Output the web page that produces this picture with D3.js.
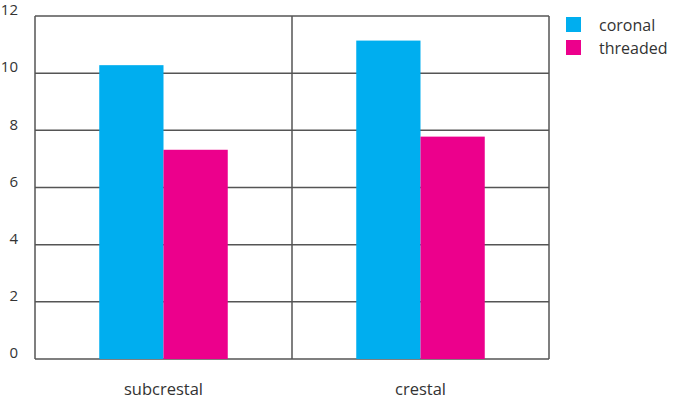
<!DOCTYPE html>
<html>
<head>
<meta charset="utf-8">
<script src="https://cdn.jsdelivr.net/npm/d3@7"></script>
<style>
body { margin: 0; background: #fff; }
text { font-family: "Open Sans", "DejaVu Sans", sans-serif; fill: #333; }
</style>
</head>
<body>
<script>
let width = 674
let height = 400

let categories = ["subcrestal", "crestal"]
let series = ["coronal", "threaded"]
let coronal = [10.28, 11.14]
let threaded = [7.32, 7.78]
let yTicks = [0, 2, 4, 6, 8, 10, 12]
let colors = ["#00aeef", "#ec008c"]

let plot = {left: 35, right: 549, top: 16, bottom: 359}

let data = categories.map((c, i) => ({cat: c, values: [coronal[i], threaded[i]]}))

let svg = d3.select("body")
.append("svg")
.attr("width", width)
.attr("height", height)

//scales
let x0 = d3.scaleBand()
.domain(categories)
.range([plot.left, plot.right])
.padding(0)

let x1 = d3.scaleBand()
.domain(series)
.range([0, x0.bandwidth()])
.paddingInner(0)
.paddingOuter(1)

let y = d3.scaleLinear()
.domain([0, 12])
.range([plot.bottom, plot.top])

let color = d3.scaleOrdinal()
.domain(series)
.range(colors)

// gridlines
svg.append("g")
	.selectAll("line")
	.data(yTicks)
	.enter()
	.append("line")
	.attr("x1", plot.left)
	.attr("x2", plot.right)
	.attr("y1", d => y(d))
	.attr("y2", d => y(d))
	.style("stroke", "#555")
	.style("stroke-width", 1.5)

// bars
let groups = svg.selectAll(".group")
	.data(data)
	.enter()
	.append("g")
	.attr("transform", d => "translate(" + x0(d.cat) + ",0)")

groups.selectAll("rect")
	.data(d => d.values.map((v, i) => ({s: series[i], v: v})))
	.enter()
	.append("rect")
	.attr("x", d => x1(d.s))
	.attr("width", x1.bandwidth())
	.attr("y", d => y(d.v))
	.attr("height", d => y(0) - y(d.v))
	.style("fill", d => color(d.s))

// vertical frame lines (left, dividers, right)
let vlines = categories.map(c => x0(c)).concat([plot.right])
svg.append("g")
	.selectAll("line")
	.data(vlines)
	.enter()
	.append("line")
	.attr("x1", d => d)
	.attr("x2", d => d)
	.attr("y1", plot.top)
	.attr("y2", plot.bottom)
	.style("stroke", "#555")
	.style("stroke-width", 1.5)

// y axis labels
svg.append("g")
	.selectAll("text")
	.data(yTicks)
	.enter()
	.append("text")
	.attr("x", 18)
	.attr("y", d => y(d) - 6)
	.attr("text-anchor", "end")
	.attr("dy", "0.35em")
	.style("font-size", "15px")
	.text(d => d)

// x labels
svg.append("g")
	.selectAll("text")
	.data(categories)
	.enter()
	.append("text")
	.attr("x", d => x0(d) + x0.bandwidth() / 2)
	.attr("y", 395)
	.attr("text-anchor", "middle")
	.style("font-size", "16.5px")
	.text(d => d)

// legend
let legend = svg.append("g")
	.selectAll("g")
	.data(series)
	.enter()
	.append("g")
	.attr("transform", (d, i) => "translate(566," + (17 + i * 23) + ")")

legend.append("rect")
	.attr("width", 15)
	.attr("height", 15)
	.style("fill", d => color(d))

legend.append("text")
	.attr("x", 33)
	.attr("y", 8)
	.attr("dy", "0.35em")
	.style("font-size", "16px")
	.text(d => d)
</script>
</body>
</html>
